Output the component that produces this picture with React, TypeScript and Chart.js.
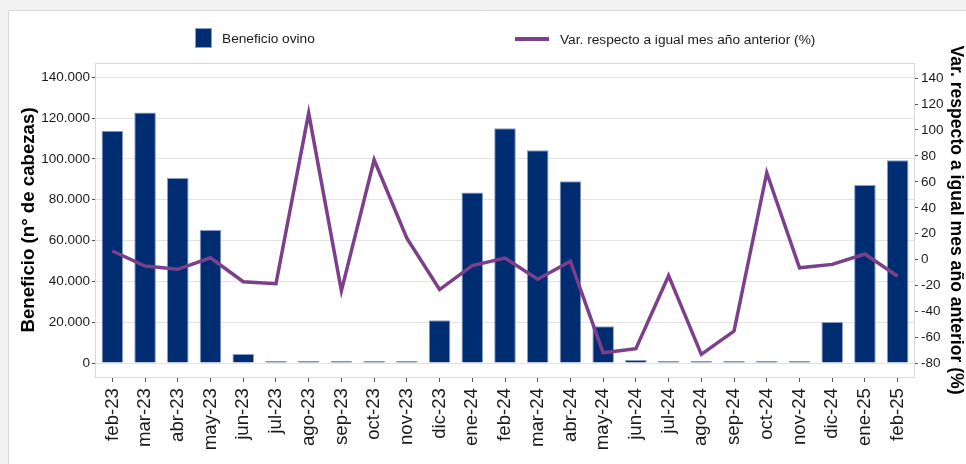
import React, { useEffect, useRef } from "react";
import { Chart, registerables } from "chart.js";

Chart.register(...registerables);

const categories = [
  "feb-23", "mar-23", "abr-23", "may-23", "jun-23", "jul-23", "ago-23", "sep-23",
  "oct-23", "nov-23", "dic-23", "ene-24", "feb-24", "mar-24", "abr-24", "may-24",
  "jun-24", "jul-24", "ago-24", "sep-24", "oct-24", "nov-24", "dic-24", "ene-25", "feb-25",
];

const beneficioOvino = [
  113800, 122800, 90700, 65200, 4400, 500, 400, 400, 100, 900, 20900, 83600,
  115000, 104200, 89000, 18000, 1500, 300, 100, 300, 300, 900, 20100, 87200, 99300,
];

const variacionPct = [
  6.7, -4.9, -7.4, 1.5, -17, -18.5, 113, -24, 77, 16.5, -23, -4.5,
  1.2, -15, -1.2, -71.7, -68.6, -12.3, -73, -55, 67, -6.2, -3.6, 4.4, -12.8,
];

const leftTicks = [0, 20000, 40000, 60000, 80000, 100000, 120000, 140000];
const rightTicks = [-80, -60, -40, -20, 0, 20, 40, 60, 80, 100, 120, 140];

const barLabel = "Beneficio ovino";
const lineLabel = "Var. respecto a igual mes año anterior (%)";
const leftTitle = "Beneficio (n° de cabezas)";
const rightTitle = "Var. respecto a igual mes año anterior (%)";

const FONT = "'Liberation Sans', Arial, sans-serif";
const BAR_COLOR = "#002d72";
const BAR_BORDER = "#8a9ec6";
const LINE_COLOR = "#7b3f8b";
const TEXT = "#1a1a1a";

const fmt = (v: number) => String(v).replace(/\B(?=(\d{3})+(?!\d))/g, ".");

const backgroundPlugin = {
  id: "panelBg",
  beforeDraw(chart: any) {
    const { ctx, width, height } = chart;
    ctx.save();
    ctx.fillStyle = "#f2f2f2";
    ctx.fillRect(0, 0, width, height);
    ctx.fillStyle = "#ffffff";
    ctx.fillRect(8, 10, width - 8, height - 10);
    ctx.strokeStyle = "#d8d8d8";
    ctx.lineWidth = 1;
    ctx.beginPath();
    ctx.moveTo(8.5, height);
    ctx.lineTo(8.5, 10.5);
    ctx.lineTo(width, 10.5);
    ctx.stroke();
    ctx.restore();
  },
  beforeDatasetsDraw(chart: any) {
    const { ctx, chartArea } = chart;
    ctx.save();
    ctx.strokeStyle = "#d9d9d9";
    ctx.lineWidth = 1;
    ctx.strokeRect(
      Math.round(chartArea.left) - 0.5,
      Math.round(chartArea.top) + 0.5,
      Math.round(chartArea.right - chartArea.left) + 1,
      Math.round(chartArea.bottom - chartArea.top)
    );
    ctx.restore();
  },
  afterDraw(chart: any) {
    const { ctx } = chart;
    ctx.save();
    // bar legend item
    ctx.fillStyle = BAR_COLOR;
    ctx.fillRect(195, 28, 17, 20);
    ctx.strokeStyle = BAR_BORDER;
    ctx.lineWidth = 1;
    ctx.strokeRect(195.5, 28.5, 16, 19);
    ctx.font = `13.7px ${FONT}`;
    ctx.fillStyle = TEXT;
    ctx.textBaseline = "middle";
    ctx.textAlign = "left";
    ctx.fillText(chart.data.datasets[0].label, 222, 39);
    // line legend item
    ctx.strokeStyle = LINE_COLOR;
    ctx.lineWidth = 4;
    ctx.beginPath();
    ctx.moveTo(515, 39);
    ctx.lineTo(549, 39);
    ctx.stroke();
    ctx.fillText(chart.data.datasets[1].label, 560, 40);
    ctx.restore();
  },
};

export default function App() {
  const canvasRef = useRef<HTMLCanvasElement | null>(null);

  useEffect(() => {
    if (!canvasRef.current) return;
    const chart = new Chart(canvasRef.current, {
      type: "bar",
      data: {
        labels: categories,
        datasets: [
          {
            type: "bar",
            label: barLabel,
            data: beneficioOvino,
            backgroundColor: BAR_COLOR,
            borderColor: BAR_BORDER,
            borderWidth: 1,
            minBarLength: 2,
            barPercentage: 0.66,
            categoryPercentage: 1,
            yAxisID: "y",
            order: 1,
          },
          {
            type: "line",
            label: lineLabel,
            data: variacionPct,
            borderColor: LINE_COLOR,
            backgroundColor: LINE_COLOR,
            borderWidth: 3.5,
            pointRadius: 0,
            tension: 0,
            borderJoinStyle: "miter",
            yAxisID: "y1",
            order: 0,
          },
        ],
      } as any,
      options: {
        animation: false,
        responsive: false,
        devicePixelRatio: 1,
        layout: { padding: { top: 63, left: 0, right: 0, bottom: 0 } },
        plugins: {
          legend: { display: false },
          tooltip: { enabled: false },
        },
        scales: {
          x: {
            type: "category",
            offset: true,
            grid: {
              display: true,
              drawOnChartArea: false,
              drawTicks: true,
              tickLength: 5,
              tickColor: "#555555",
              offset: false,
            },
            border: { display: false },
            ticks: {
              autoSkip: false,
              minRotation: 90,
              maxRotation: 90,
              padding: 6,
              color: TEXT,
              font: { family: FONT, size: 18.67 },
            },
            afterFit(scale: any) {
              scale.height = 87;
            },
          },
          y: {
            type: "linear",
            position: "left",
            min: -6860,
            max: 147006,
            afterBuildTicks(scale: any) {
              scale.ticks = leftTicks.map((v) => ({ value: v }));
            },
            grid: {
              color: "#e3e3e3",
              tickColor: "#555555",
              tickLength: 4,
              drawTicks: true,
            },
            border: { display: false },
            ticks: {
              padding: 2,
              color: TEXT,
              font: { family: FONT, size: 13.5 },
              callback: (v: any) => fmt(Number(v)),
            },
            title: {
              display: true,
              text: leftTitle,
              color: "#000000",
              font: { family: FONT, size: 18.67, weight: "bold" },
              padding: { top: 18, bottom: 0 },
            },
            afterFit(scale: any) {
              scale.width = 96;
            },
          },
          y1: {
            type: "linear",
            position: "right",
            min: -90.4,
            max: 151.6,
            afterBuildTicks(scale: any) {
              scale.ticks = rightTicks.map((v) => ({ value: v }));
            },
            grid: {
              drawOnChartArea: false,
              tickColor: "#555555",
              tickLength: 4,
              drawTicks: true,
            },
            border: { display: false },
            ticks: {
              padding: 3,
              color: TEXT,
              font: { family: FONT, size: 13.5 },
              callback: (v: any) => String(v),
            },
            title: {
              display: true,
              text: rightTitle,
              color: "#000000",
              font: { family: FONT, size: 17.6, weight: "bold" },
              padding: { top: -0.5, bottom: 0 },
            },
            afterFit(scale: any) {
              scale.width = 52;
            },
          },
        },
      } as any,
      plugins: [backgroundPlugin],
    });
    return () => chart.destroy();
  }, []);

  return (
    <div style={{ position: "fixed", left: 0, top: 0, width: 966, height: 464 }}>
      <canvas ref={canvasRef} width={966} height={464} style={{ display: "block" }} />
    </div>
  );
}
